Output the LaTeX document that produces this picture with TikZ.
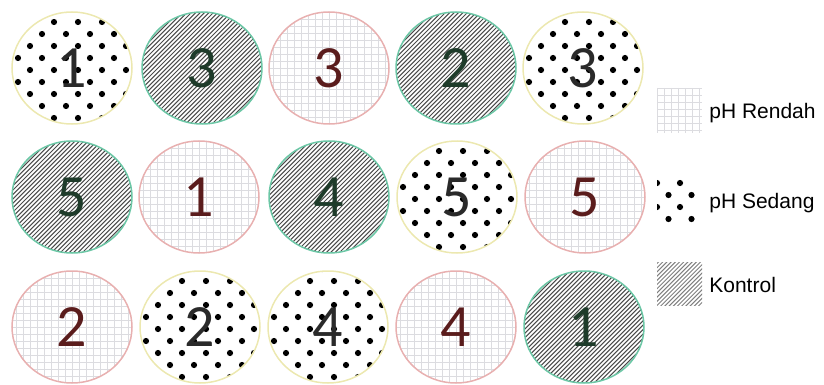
\documentclass[tikz,border=0pt]{standalone}
\usepackage{fontspec}
\setmainfont{Liberation Sans}
\newfontfamily\angkafont{Carlito}
\usetikzlibrary{calc}

\definecolor{tepiR}{HTML}{E8B0B0}
\definecolor{tepiS}{HTML}{ECE8B0}
\definecolor{tepiK}{HTML}{6CC7A6}
\definecolor{garisR}{HTML}{DCDCE0}
\definecolor{garisK}{HTML}{4A4A4A}
\definecolor{teksR}{HTML}{5A1C1C}
\definecolor{teksS}{HTML}{2A2A2A}
\definecolor{teksK}{HTML}{1E3B2A}

\tikzset{every picture/.style={line width=0.75pt},
  angka/.style={font=\angkafont\fontsize{60}{60}\selectfont, inner sep=0pt},
  ket/.style={font=\fontsize{21}{21}\selectfont, anchor=base west, inner sep=0pt},
  kisi/.style={garisR, line width=0.45pt},
  arsir/.style={garisK, line width=1.05pt},
  titik/.style={fill=black}
}

% pH rendah: kisi-kisi
\newcommand{\cawanR}[4]{%
  \begin{scope}
    \clip (#2,#3) ellipse [x radius=60, y radius=56];
    \foreach \k in {-9,...,9} {
      \draw[kisi] ({#2+7*(\k)},{#3-60}) -- ({#2+7*(\k)},{#3+60});
      \draw[kisi] ({#2-65},{#3+7*(\k)}) -- ({#2+65},{#3+7*(\k)});
    }
  \end{scope}
  \draw[tepiR, line width=1.5pt] (#2,#3) ellipse [x radius=60, y radius=56];
  \node[angka, text=teksR] (#1) at (#2,#3) {#4};
}

% pH sedang: titik-titik
\newcommand{\cawanS}[4]{%
  \begin{scope}
    \clip (#2,#3) ellipse [x radius=60, y radius=56];
    \foreach \j in {-5,...,5}
      \foreach \i in {-3,...,3}
        \fill[titik] ({#2+24*(\i)+12*mod(\j+6,2)+6},{#3+12*(\j)+2}) circle (3.1);
  \end{scope}
  \draw[tepiS, line width=1.5pt] (#2,#3) ellipse [x radius=60, y radius=56];
  \node[angka, text=teksS] (#1) at (#2,#3) {#4};
}

% kontrol: arsiran
\newcommand{\cawanK}[4]{%
  \begin{scope}
    \clip (#2,#3) ellipse [x radius=60, y radius=56];
    \foreach \k in {-28,...,28}
      \draw[arsir] ({#2+4.4*(\k)-70},{#3+70}) -- ({#2+4.4*(\k)+70},{#3-70});
  \end{scope}
  \draw[tepiK, line width=1.5pt] (#2,#3) ellipse [x radius=60, y radius=56];
  \node[angka, text=teksK] (#1) at (#2,#3) {#4};
}

\begin{document}
\begin{tikzpicture}[x=1pt,y=-1pt]
    \useasboundingbox (0,0) rectangle (824,385);

    % baris 1
    \cawanS{a1}{72}{68}{1}
    \cawanK{a2}{202}{68}{3}
    \cawanR{a3}{329}{68}{3}
    \cawanK{a4}{456}{68}{2}
    \cawanS{a5}{583}{68}{3}

    % baris 2
    \cawanK{b1}{72}{197}{5}
    \cawanR{b2}{199}{197}{1}
    \cawanK{b3}{329}{197}{4}
    \cawanS{b4}{457}{197}{5}
    \cawanR{b5}{585}{197}{5}

    % baris 3
    \cawanR{c1}{72}{327}{2}
    \cawanS{c2}{200}{327}{2}
    \cawanS{c3}{328}{327}{4}
    \cawanR{c4}{456}{327}{4}
    \cawanK{c5}{584}{327}{1}

    % keterangan: pH rendah
    \begin{scope}
        \clip (657,88) rectangle (702,133);
        \foreach \k in {0,...,7} {
            \draw[kisi] ({657+7*\k},88) -- ({657+7*\k},133);
            \draw[kisi] (657,{88+7*\k}) -- (702,{88+7*\k});
        }
    \end{scope}
    \node[ket] (kR) at (709,118) {pH Rendah};

    % keterangan: pH sedang
    \begin{scope}
        \clip (657,177) rectangle (702,224);
        \foreach \j in {0,...,3}
            \foreach \i in {0,1}
                \fill[titik] ({657+23*\i+11.5*mod(\j,2)},{183+12*\j}) circle (3.1);
    \end{scope}
    \node[ket] (kS) at (709,208) {pH Sedang};

    % keterangan: kontrol
    \begin{scope}
        \clip (657,262) rectangle (702,305);
        \foreach \k in {-12,...,12}
            \draw[arsir, gray, line width=1pt] ({679.5+4.2*\k-30},313) -- ({679.5+4.2*\k+30},253);
    \end{scope}
    \node[ket] (kK) at (709,292) {Kontrol};
\end{tikzpicture}
\end{document}
